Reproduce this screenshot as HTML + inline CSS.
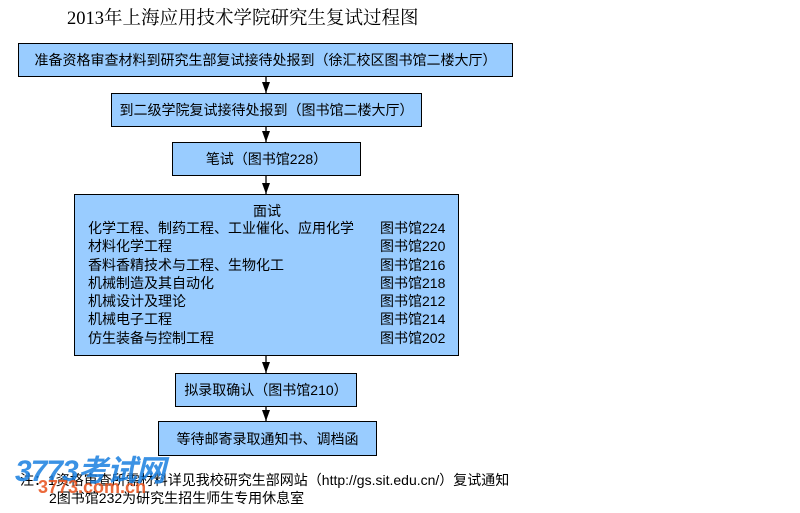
<!DOCTYPE html>
<html><head><meta charset="utf-8"><style>
body{margin:0;width:800px;height:513px;background:#fff;position:relative;overflow:hidden;font-family:"Liberation Sans","Noto Sans CJK SC",sans-serif;font-size:14px;color:#000}
.b{position:absolute;background:#99ccff;border:1px solid #000;box-sizing:border-box;display:flex;align-items:center;justify-content:center}
.t{position:absolute;white-space:nowrap}
.r{position:absolute;font-size:14px;line-height:18.3px}
</style></head><body>
<div class="t" style="left:67px;top:4px;font-family:'Liberation Serif','Noto Serif CJK SC',serif;font-size:18.5px">2013年上海应用技术学院研究生复试过程图</div>
<svg width="800" height="513" style="position:absolute;left:0;top:0">
<g stroke="#000" stroke-width="1.3"><line x1="266" y1="76" x2="266" y2="93"/><line x1="266" y1="126" x2="266" y2="142"/><line x1="266" y1="175" x2="266" y2="194"/><line x1="266" y1="355" x2="266" y2="373"/><line x1="266" y1="406" x2="266" y2="421"/></g>
<g fill="#000"><polygon points="262,82 270,82 266,93"/><polygon points="262,131 270,131 266,142"/><polygon points="262,183 270,183 266,194"/><polygon points="262,362 270,362 266,373"/><polygon points="262,410 270,410 266,421"/></g>
</svg>
<div class="b" style="left:18px;top:43px;width:495px;height:34px">准备资格审查材料到研究生部复试接待处报到（徐汇校区图书馆二楼大厅）</div>
<div class="b" style="left:111px;top:93px;width:311px;height:34px">到二级学院复试接待处报到（图书馆二楼大厅）</div>
<div class="b" style="left:172px;top:142px;width:189px;height:34px">笔试（图书馆228）</div>
<div class="b" style="left:74px;top:194px;width:385px;height:162px"></div>
<div class="t" style="left:253px;top:201px">面试</div>
<div class="r" style="left:88px;top:219px">化学工程、制药工程、工业催化、应用化学<br>材料化学工程<br>香料香精技术与工程、生物化工<br>机械制造及其自动化<br>机械设计及理论<br>机械电子工程<br>仿生装备与控制工程</div>
<div class="r" style="left:380px;top:219px">图书馆224<br>图书馆220<br>图书馆216<br>图书馆218<br>图书馆212<br>图书馆214<br>图书馆202</div>
<div class="b" style="left:175px;top:373px;width:182px;height:34px">拟录取确认（图书馆210）</div>
<div class="b" style="left:158px;top:421px;width:219px;height:35px">等待邮寄录取通知书、调档函</div>
<div class="t" style="left:20px;top:470px">注：1资格审查所需材料详见我校研究生部网站（http://gs.sit.edu.cn/）复试通知</div>
<div class="t" style="left:49px;top:488px">2图书馆232为研究生招生师生专用休息室</div>
<div class="t" style="left:15px;top:446px;font-size:30px;font-weight:bold;font-style:italic;color:#1a7fe0;letter-spacing:-1px;opacity:.85">3773考试网</div>
<div class="t" style="left:38px;top:477px;font-size:18px;font-weight:bold;color:#e8501a;opacity:.85">3773.com.cn</div>
</body></html>
